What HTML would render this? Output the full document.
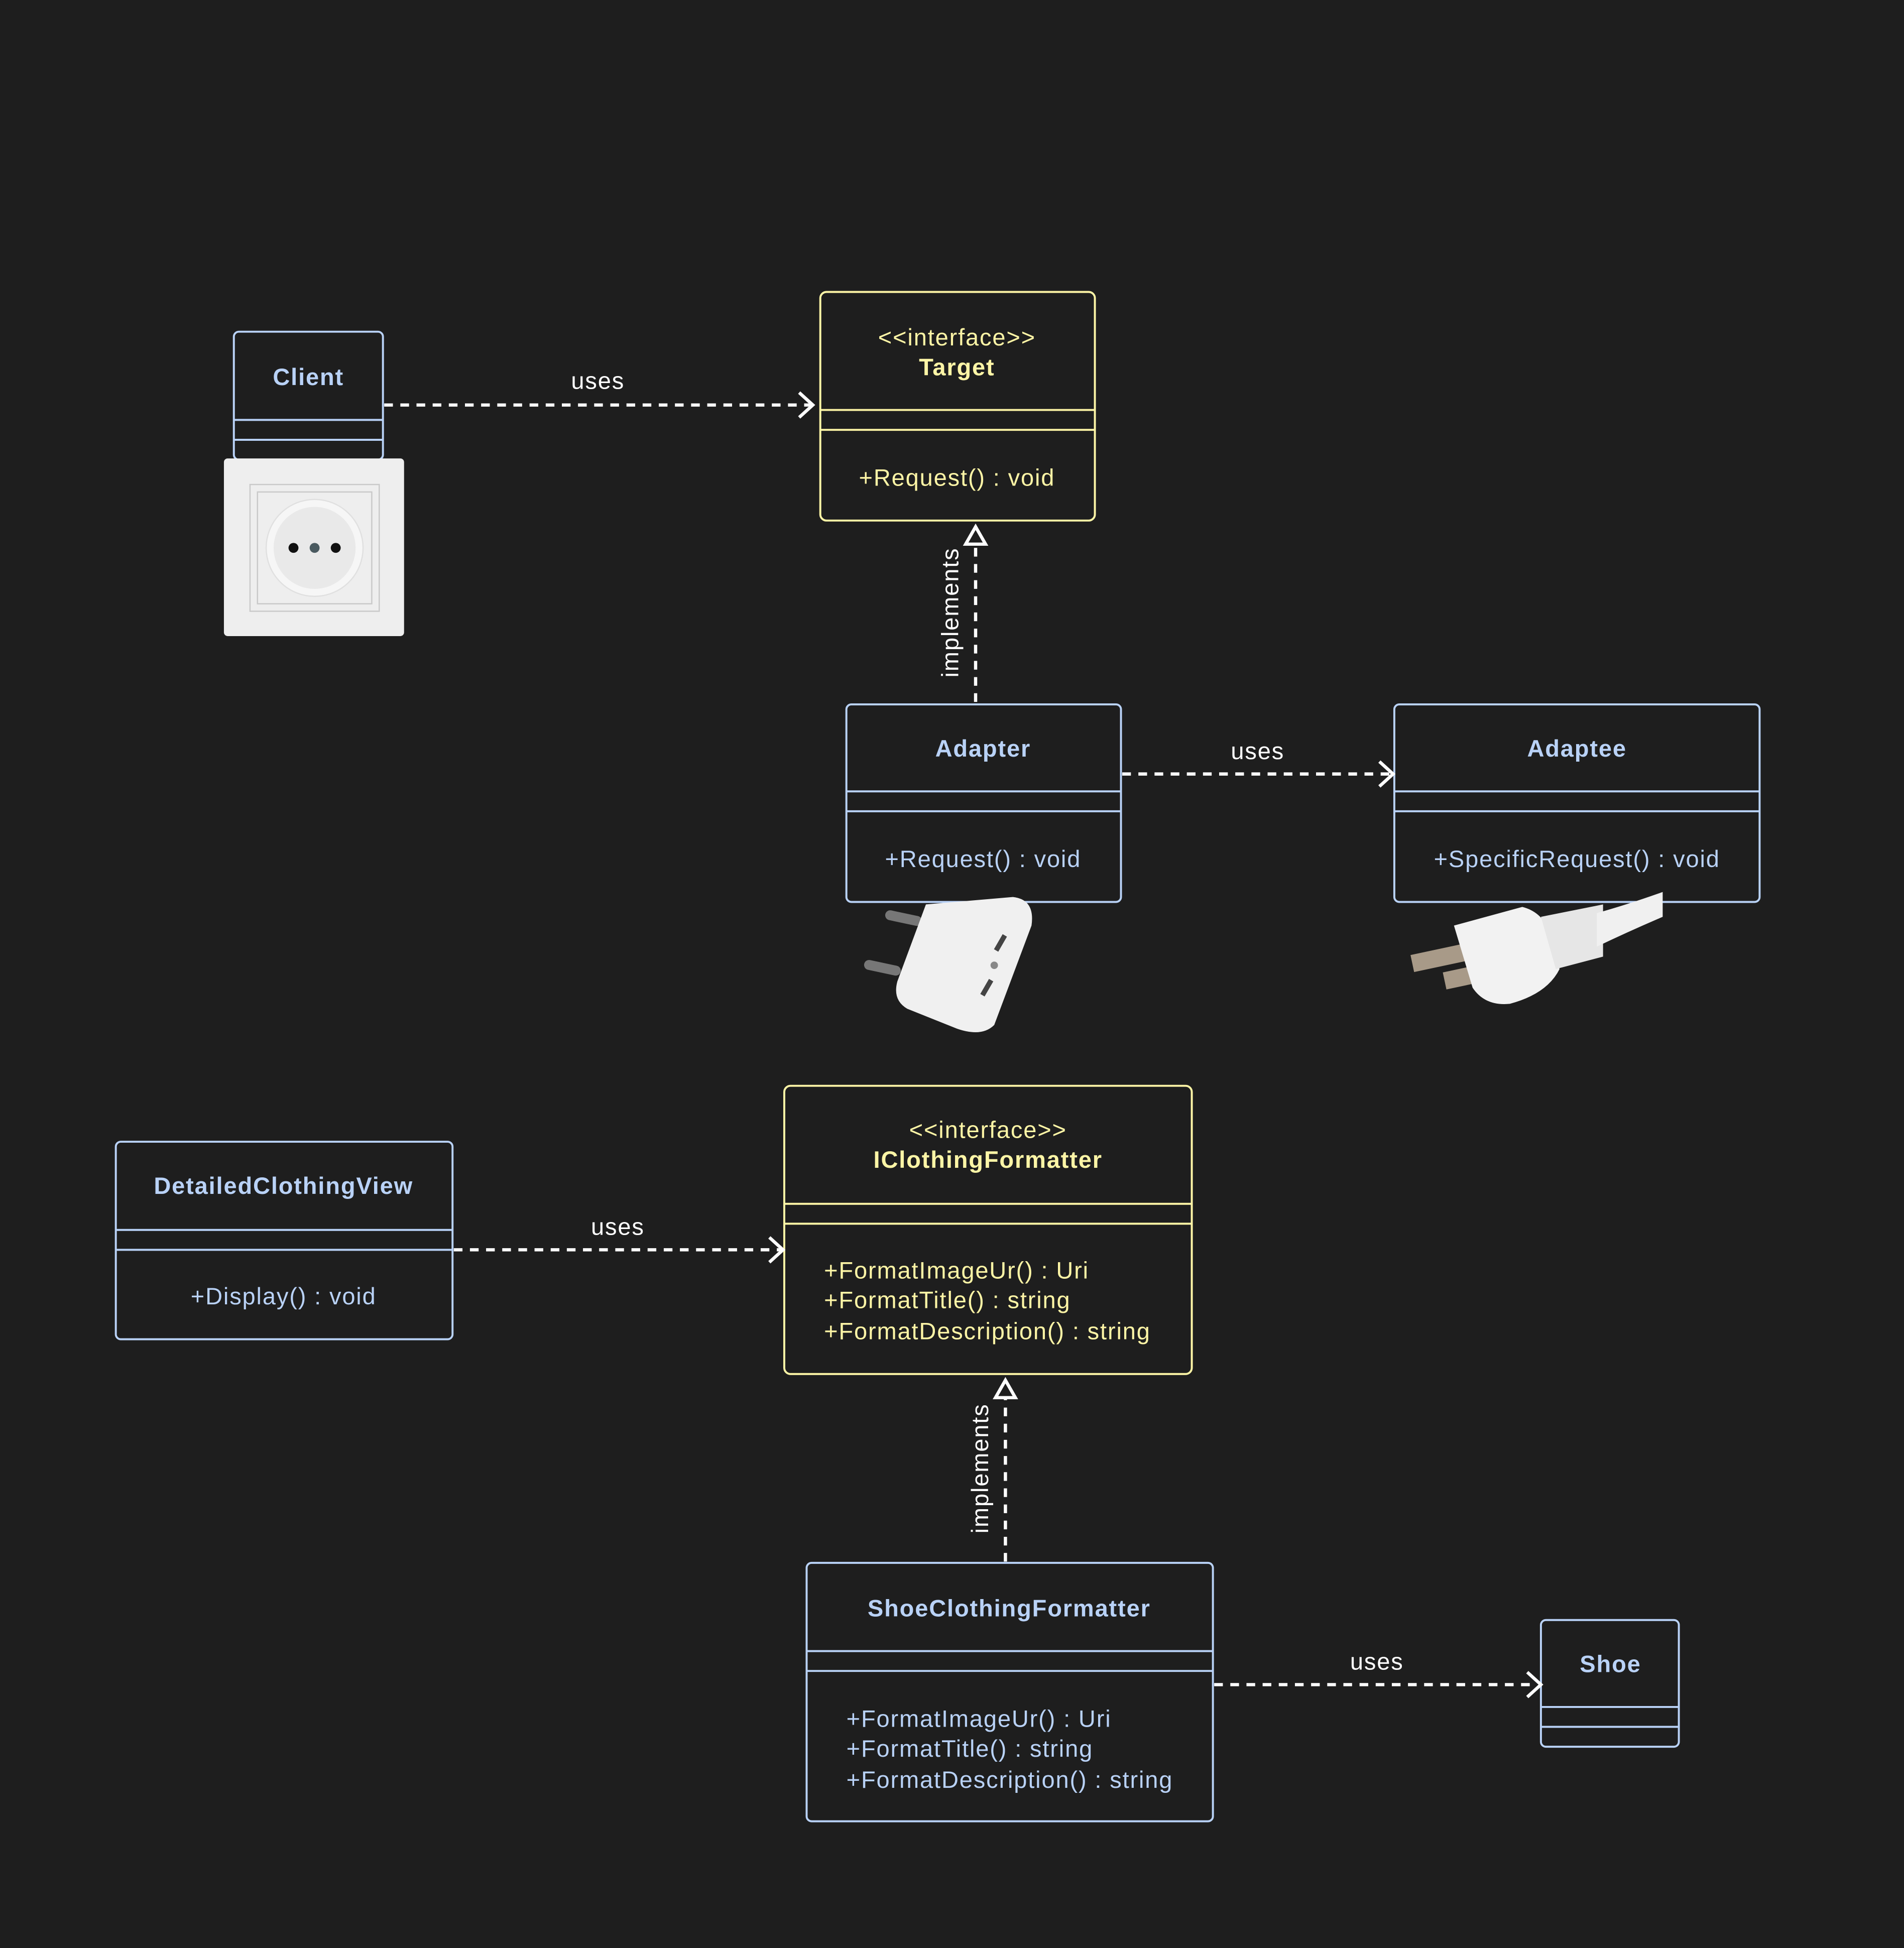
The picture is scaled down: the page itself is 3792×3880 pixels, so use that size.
<!DOCTYPE html>
<html><head><meta charset="utf-8"><style>
html,body{margin:0;padding:0;background:#1e1e1e;}
svg{display:block}
text{font-family:"Liberation Sans",sans-serif;font-size:19px;letter-spacing:0.75px;}
.b{fill:#b9d2f7}.y{fill:#fdf5a6}.w{fill:#fff}
.bs{stroke:#b9d2f7}.ys{stroke:#fdf5a6}
</style></head><body>
<svg width="3792" height="3880" viewBox="0 0 1532 1568" xmlns="http://www.w3.org/2000/svg">
<rect width="1532" height="1568" fill="#1e1e1e"/>
<g fill="none" stroke-width="1.6">
<rect class="bs" x="188" y="267" width="120" height="103" rx="4"/>
<line class="bs" x1="188" y1="338" x2="308" y2="338"/><line class="bs" x1="188" y1="354" x2="308" y2="354"/>
<rect class="ys" x="660" y="235" width="221" height="184" rx="5"/>
<line class="ys" x1="660" y1="330" x2="881" y2="330"/><line class="ys" x1="660" y1="346" x2="881" y2="346"/>
<rect class="bs" x="681" y="567" width="221" height="159" rx="4"/>
<line class="bs" x1="681" y1="637" x2="902" y2="637"/><line class="bs" x1="681" y1="653" x2="902" y2="653"/>
<rect class="bs" x="1122" y="567" width="294" height="159" rx="4"/>
<line class="bs" x1="1122" y1="637" x2="1416" y2="637"/><line class="bs" x1="1122" y1="653" x2="1416" y2="653"/>
<rect class="ys" x="631" y="874" width="328" height="232" rx="5"/>
<line class="ys" x1="631" y1="969" x2="959" y2="969"/><line class="ys" x1="631" y1="985" x2="959" y2="985"/>
<rect class="bs" x="93" y="919" width="271" height="159" rx="4"/>
<line class="bs" x1="93" y1="990" x2="364" y2="990"/><line class="bs" x1="93" y1="1006" x2="364" y2="1006"/>
<rect class="bs" x="649" y="1258" width="327" height="208" rx="4"/>
<line class="bs" x1="649" y1="1329" x2="976" y2="1329"/><line class="bs" x1="649" y1="1345" x2="976" y2="1345"/>
<rect class="bs" x="1240" y="1304" width="111" height="102" rx="4"/>
<line class="bs" x1="1240" y1="1374" x2="1351" y2="1374"/><line class="bs" x1="1240" y1="1390" x2="1351" y2="1390"/>
</g>
<g fill="none" stroke="#fff" stroke-width="2.6">
<g stroke-dasharray="7 6">
<line x1="309" y1="326" x2="652" y2="326"/>
<line x1="903" y1="623" x2="1119" y2="623"/>
<line x1="365" y1="1006" x2="628" y2="1006"/>
<line x1="977" y1="1356" x2="1237" y2="1356"/>
<line x1="785" y1="565" x2="785" y2="438"/>
<line x1="809" y1="1257" x2="809" y2="1125"/>
</g>
<polyline points="643,316 654,326 643,336"/>
<polyline points="1110,613 1121,623 1110,633"/>
<polyline points="619,996 630,1006 619,1016"/>
<polyline points="1229,1346 1240,1356 1229,1366"/>
<polygon points="785,424 777,438 793,438"/>
<polygon points="809,1111 801,1125 817,1125"/>
</g>
<g class="w" text-anchor="middle">
<text x="481" y="313">uses</text>
<text x="1012" y="611">uses</text>
<text x="497" y="994">uses</text>
<text x="1108" y="1344">uses</text>
<text transform="translate(771,493) rotate(-90)">implements</text>
<text transform="translate(795,1182) rotate(-90)">implements</text>
</g>
<g text-anchor="middle">
<text class="b" x="248" y="310" font-weight="bold">Client</text>
<text class="y" x="770" y="278">&lt;&lt;interface&gt;&gt;</text>
<text class="y" x="770" y="302" font-weight="bold">Target</text>
<text class="y" x="770" y="391">+Request() : void</text>
<text class="b" x="791" y="609" font-weight="bold">Adapter</text>
<text class="b" x="791" y="698">+Request() : void</text>
<text class="b" x="1269" y="609" font-weight="bold">Adaptee</text>
<text class="b" x="1269" y="698">+SpecificRequest() : void</text>
<text class="y" x="795" y="916">&lt;&lt;interface&gt;&gt;</text>
<text class="y" x="795" y="940" font-weight="bold">IClothingFormatter</text>
<text class="b" x="228" y="961" font-weight="bold">DetailedClothingView</text>
<text class="b" x="228" y="1050">+Display() : void</text>
<text class="b" x="812" y="1301" font-weight="bold">ShoeClothingFormatter</text>
<text class="b" x="1296" y="1346" font-weight="bold">Shoe</text>
</g>
<g class="y"><text x="663" y="1029">+FormatImageUr() : Uri</text><text x="663" y="1053">+FormatTitle() : string</text><text x="663" y="1078">+FormatDescription() : string</text></g>
<g class="b"><text x="681" y="1390">+FormatImageUr() : Uri</text><text x="681" y="1414">+FormatTitle() : string</text><text x="681" y="1439">+FormatDescription() : string</text></g>
<rect x="180" y="369" width="145" height="143" rx="3" fill="#eeeeee"/>
<rect x="201" y="390" width="104" height="102" fill="none" stroke="#c9c9c9"/>
<rect x="207" y="396" width="92" height="90" fill="none" stroke="#c9c9c9"/>
<circle cx="253" cy="441" r="39" fill="#f6f6f6" stroke="#e0e0e0"/>
<circle cx="253" cy="441" r="33" fill="#e9e9e9"/>
<circle cx="236" cy="441" r="4" fill="#111"/><circle cx="270" cy="441" r="4" fill="#111"/><circle cx="253" cy="441" r="4" fill="#4a5a60"/>
<g>
<rect x="695" y="775" width="30" height="8" rx="4" fill="#777" transform="rotate(12 710 779)"/>
<rect x="712" y="735" width="30" height="8" rx="4" fill="#777" transform="rotate(12 727 739)"/>
<path d="M745 728 L815 722 Q833 724 830 745 L800 825 Q790 835 770 828 L730 812 Q718 805 722 790 Z" fill="#f0f0f0"/>
<rect x="803" y="752" width="4" height="14" fill="#444" transform="rotate(30 805 759)"/>
<rect x="792" y="788" width="4" height="14" fill="#444" transform="rotate(30 794 795)"/>
<circle cx="800" cy="777" r="3" fill="#888"/>
</g>
<g>
<rect x="1136" y="764" width="45" height="14" fill="#a89a88" transform="rotate(-12 1158 771)"/>
<rect x="1162" y="778" width="45" height="14" fill="#a89a88" transform="rotate(-12 1184 785)"/>
<path d="M1170 745 L1225 730 Q1245 735 1250 760 L1255 780 Q1245 800 1215 808 Q1195 810 1185 795 Z" fill="#f2f2f2"/>
<path d="M1240 738 L1290 728 L1290 770 L1252 780 Z" fill="#e6e6e6"/>
<path d="M1285 735 Q1310 728 1338 718 L1338 738 Q1310 750 1285 762 Z" fill="#f0f0f0"/>
</g>
</svg>
</body></html>
